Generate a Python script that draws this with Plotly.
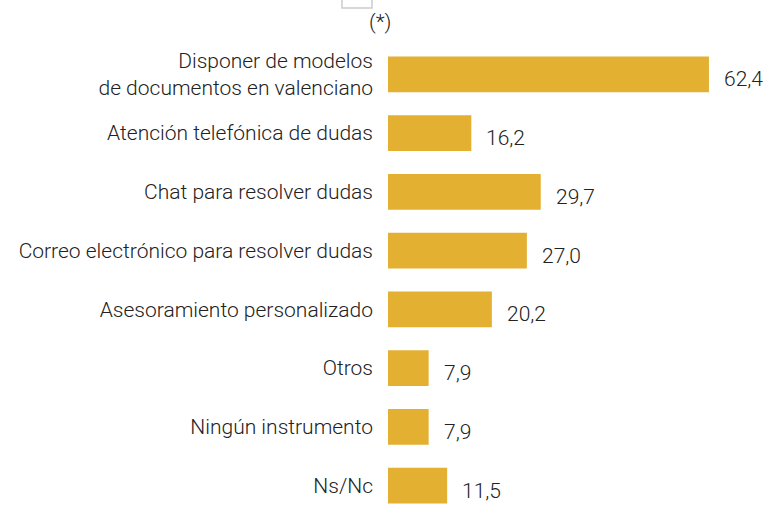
import plotly.graph_objects as go

categories = [
    "Disponer de modelos<br>de documentos en valenciano",
    "Atención telefónica de dudas",
    "Chat para resolver dudas",
    "Correo electrónico para resolver dudas",
    "Asesoramiento personalizado",
    "Otros",
    "Ningún instrumento",
    "Ns/Nc",
]
values = [62.4, 16.2, 29.7, 27.0, 20.2, 7.9, 7.9, 11.5]
value_labels = [f"{v:.1f}".replace(".", ",") for v in values]

BAR = "#E3B031"
TEXT = "#222222"
FONT = "Roboto, sans-serif"
FS = 21
W, H = 765, 517
L, R, T, B = 388, 0, 45, 2
PW, PH = W - L - R, H - T - B

fig = go.Figure()
fig.add_trace(go.Bar(
    x=values,
    y=categories,
    orientation="h",
    marker=dict(color=BAR, line=dict(width=0)),
    width=0.61,
    hoverinfo="skip",
))

# value labels to the right of each bar
for cat, v, lab in zip(categories, values, value_labels):
    fig.add_annotation(
        x=v, y=cat, text=lab, showarrow=False,
        xanchor="left", xshift=13, yshift=-5,
        font=dict(family=FONT, size=FS, color=TEXT, weight=300),
    )

# "(*)" note above the chart
fig.add_annotation(
    x=(380 - L) / PW, y=(H - B - 22) / PH, xref="paper", yref="paper",
    text="(*)", showarrow=False, xanchor="center", yanchor="middle",
    font=dict(family=FONT, size=FS, color=TEXT, weight=300),
)

# small faded icon box at top
fig.add_shape(
    type="rect", xref="paper", yref="paper",
    x0=(342 - L) / PW, x1=(372 - L) / PW,
    y0=(H - B - 8) / PH, y1=(H - B + 2) / PH,
    line=dict(color="#cccccc", width=1.5), fillcolor="white",
)

fig.update_layout(
    width=W, height=H,
    margin=dict(l=L, r=R, t=T, b=B, autoexpand=False),
    paper_bgcolor="white", plot_bgcolor="white",
    showlegend=False,
    font=dict(family=FONT, size=FS, color=TEXT),
    xaxis=dict(range=[0, 73.3], visible=False, fixedrange=True),
    yaxis=dict(
        range=[7.5, -0.5], showgrid=False, zeroline=False, showline=False,
        ticks="", ticklabelstandoff=14, automargin=False,
        tickfont=dict(family=FONT, size=FS, color=TEXT, weight=300),
        fixedrange=True,
    ),
)

fig.write_html(
    "out.html",
    config={"displayModeBar": False},
    post_script="document.body.style.margin='0';",
)
